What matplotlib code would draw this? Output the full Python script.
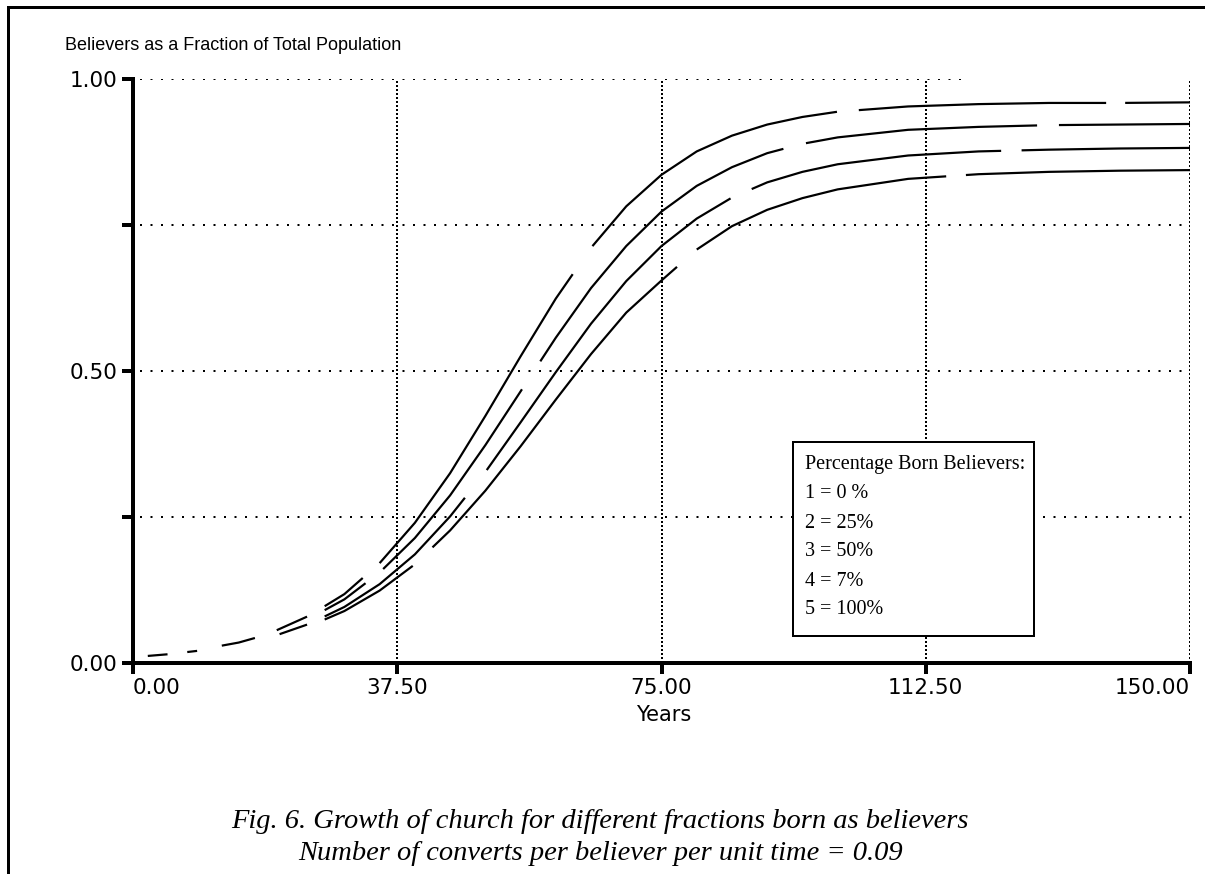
import numpy as np
import matplotlib
matplotlib.use("Agg")
import matplotlib.pyplot as plt
from matplotlib.lines import Line2D
from matplotlib.patches import Rectangle

# values
years = [0, 5, 10, 15, 20, 25, 30, 35, 40, 45, 50, 55, 60, 65, 70, 75,
         80, 85, 90, 95, 100, 110, 120, 130, 140, 150]
frac_a = [0.010, 0.016, 0.024, 0.036, 0.054, 0.081, 0.118, 0.171, 0.240, 0.325,
          0.423, 0.525, 0.624, 0.711, 0.782, 0.836, 0.876, 0.903, 0.922, 0.935,
          0.944, 0.953, 0.957, 0.959, 0.959, 0.960]
frac_b = [0.011, 0.016, 0.024, 0.035, 0.052, 0.076, 0.109, 0.155, 0.214, 0.287,
          0.373, 0.465, 0.557, 0.642, 0.714, 0.773, 0.817, 0.849, 0.873, 0.889,
          0.900, 0.913, 0.918, 0.921, 0.922, 0.923]
frac_c = [0.010, 0.015, 0.022, 0.032, 0.046, 0.067, 0.096, 0.135, 0.186, 0.251,
          0.327, 0.412, 0.498, 0.581, 0.654, 0.714, 0.761, 0.797, 0.823, 0.841,
          0.854, 0.869, 0.876, 0.879, 0.881, 0.882]
frac_d = [0.010, 0.015, 0.021, 0.031, 0.044, 0.063, 0.089, 0.124, 0.169, 0.227,
          0.295, 0.371, 0.451, 0.529, 0.600, 0.655, 0.708, 0.748, 0.776, 0.796,
          0.811, 0.829, 0.837, 0.841, 0.843, 0.844]

# year ranges where each curve is actually inked (the old plotter broke its dashes,
# and where the curves lie on top of each other only short bits are left)
spans_a = [(20.4, 24.7), (27.2, 32.6), (35.0, 62.4), (65.2, 99.9), (103.0, 138.1), (140.8, 150)]
spans_b = [(12.6, 17.3), (27.2, 33.0), (35.5, 55.2), (57.8, 92.3), (95.5, 128.3), (131.4, 150)]
spans_c = [(7.7, 9.1), (20.8, 24.7), (27.2, 47.1), (50.2, 84.8), (87.8, 123.2), (126.1, 150)]
spans_d = [(2.1, 4.9), (27.2, 39.7), (42.5, 77.2), (80.0, 115.4), (118.2, 150)]

x_ticks = [0, 37.5, 75, 112.5, 150]
x_labels = ["0.00", "37.50", "75.00", "112.50", "150.00"]
y_ticks = [0, 0.25, 0.5, 0.75, 1.0]
y_labels = ["0.00", "", "0.50", "", "1.00"]

title = "Believers as a Fraction of Total Population"
legend_lines = ["Percentage Born Believers:", "1 = 0 %", "2 = 25%",
                "3 = 50%", "4 = 7%", "5 = 100%"]
caption_1 = "Fig. 6. Growth of church for different fractions born as believers"
caption_2 = "Number of converts per believer per unit time = 0.09"

plt.rcParams['lines.scale_dashes'] = False

W, H = 1205, 874
fig = plt.figure(figsize=(W / 100, H / 100), dpi=100)
px = 0.72  # pixels -> points

# plot area: x 133..1190 px, y 79..663 px
ax = fig.add_axes([133 / W, (H - 663) / H, (1190 - 133) / W, (663 - 79) / H])
ax.set_xlim(0, 150)
ax.set_ylim(0, 1)

for s in ['top', 'right']:
    ax.spines[s].set_visible(False)
for s in ['left', 'bottom']:
    ax.spines[s].set_linewidth(4 * px)

ax.set_xticks(x_ticks)
ax.set_xticklabels(x_labels)
ax.set_yticks(y_ticks)
ax.set_yticklabels(y_labels)
ax.tick_params(direction='out', length=11 * px, width=4 * px, labelsize=15.5, pad=3)
for lab in ax.get_xticklabels() + ax.get_yticklabels():
    lab.set_family('DejaVu Sans')
# first and last x labels sit inside the ends like in the original
xl = ax.get_xticklabels()
xl[0].set_horizontalalignment('left')
xl[0].set_x(-0.2)
xl[-1].set_horizontalalignment('right')
xl[-1].set_x(151.1)

# dotted grid
hdots = (0, (2 * px, 8.5 * px))
vdots = (0, (2 * px, 2 * px))
for y in [0.25, 0.5, 0.75]:
    ax.axhline(y, xmin=0.007, xmax=1, color='black', lw=2 * px, ls=hdots, zorder=1)
ax.axhline(1.0, xmin=0.007, xmax=(968 - 133) / 1057, color='black', lw=2 * px,
           ls=hdots, zorder=1)
for x in [37.5, 75, 112.5, 150]:
    ax.axvline(x, color='black', lw=2 * px, ls=vdots, zorder=1)


def dash_for(vals, spans):
    # turn inked year ranges into a dash sequence measured along the line
    pts = ax.transData.transform(np.column_stack([years, vals]))
    seg = np.hypot(np.diff(pts[:, 0]), np.diff(pts[:, 1]))
    arc = np.concatenate([[0], np.cumsum(seg)])
    seq, pos = [0.001], 0.0
    for a, b in spans:
        s0 = np.interp(a, years, arc)
        s1 = np.interp(b, years, arc)
        seq += [max(s0 - pos, 0.01) * px, (s1 - s0) * px]
        pos = s1
    seq += [(arc[-1] + 50) * px]
    return (0, seq)


for vals, sp in zip([frac_a, frac_b, frac_c, frac_d],
                    [spans_a, spans_b, spans_c, spans_d]):
    ax.plot(years, vals, color='black', lw=2.2 * px, ls=dash_for(vals, sp),
            zorder=3, clip_on=False)

# axis label and title
fig.text(664 / W, 1 - 715 / H, "Years", fontsize=15, family='DejaVu Sans',
         ha='center', va='center')
fig.text(65 / W, 1 - 46 / H, title, fontsize=13, family='Liberation Sans',
         va='center', ha='left')

# legend box
box = Rectangle((793 / W, (H - 636) / H), (1034 - 793) / W, (636 - 442) / H,
                transform=fig.transFigure, facecolor='white', edgecolor='black',
                lw=2 * px, zorder=5)
fig.add_artist(box)
for i, line in enumerate(legend_lines):
    fig.text(805 / W, 1 - (465 + 29 * i) / H, line, fontsize=14.5,
             family='Liberation Serif', va='center', ha='left', zorder=6)

# caption
fig.text(600 / W, 1 - 822 / H, caption_1, fontsize=20.5, family='Liberation Serif',
         style='italic', ha='center', va='center')
fig.text(601 / W, 1 - 853 / H, caption_2, fontsize=20.5, family='Liberation Serif',
         style='italic', ha='center', va='center')

# page frame lines (left and top)
fig.add_artist(Line2D([8 / W, 8 / W], [0, 1 - 7 / H], transform=fig.transFigure,
                      color='black', lw=3 * px))
fig.add_artist(Line2D([8 / W, 1], [1 - 7 / H, 1 - 7 / H], transform=fig.transFigure,
                      color='black', lw=3 * px))

fig.savefig('out.png', dpi=100)
plt.close(fig)
